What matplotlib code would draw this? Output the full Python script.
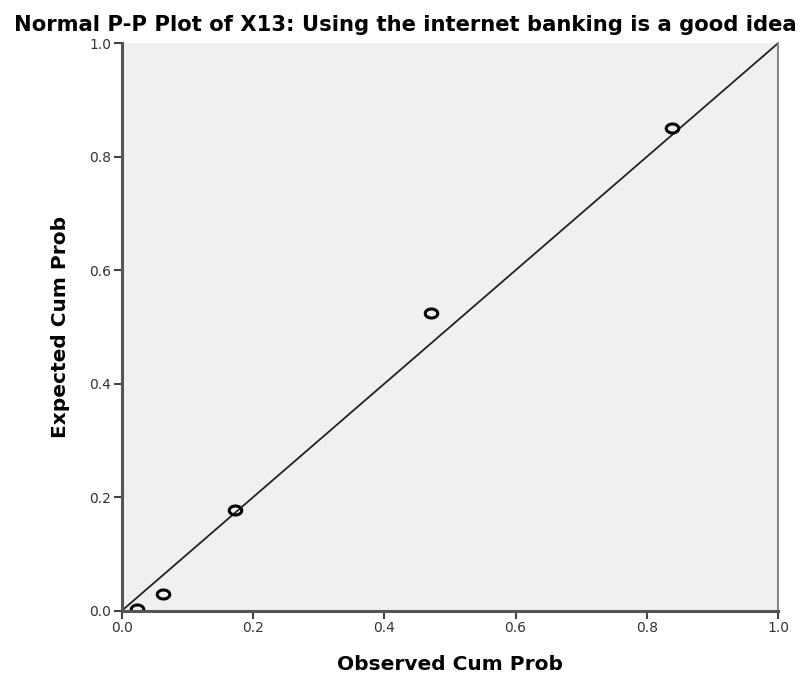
import matplotlib
matplotlib.use('Agg')
import matplotlib.pyplot as plt
from matplotlib.path import Path
import numpy as np

plt.rcParams['font.family'] = ['DejaVu Sans']

# observed vs expected cumulative probabilities
observed = [0.023, 0.063, 0.172, 0.471, 0.839]
expected = [0.003, 0.029, 0.177, 0.524, 0.851]
ticks = [0.0, 0.2, 0.4, 0.6, 0.8, 1.0]

# slightly flattened open circle marker
t = np.linspace(0, 2 * np.pi, 60)
ring = Path(np.column_stack([np.cos(t), 0.72 * np.sin(t)]), closed=True)

fig = plt.figure(figsize=(8.07, 6.73), dpi=100)
ax = fig.add_axes([0.151, 0.0926, 0.813, 0.843])
ax.set_facecolor('#f0f0f0')

ax.plot([0, 1], [0, 1], color='#222222', lw=1.3)
ax.plot(observed, expected, ls='none', marker=ring, mfc='none', mec='black', ms=9, mew=2.2)

ax.set_xlim(0, 1)
ax.set_ylim(0, 1)
ax.set_xticks(ticks)
ax.set_yticks(ticks)
ax.set_xticklabels(['%.1f' % v for v in ticks])
ax.set_yticklabels(['%.1f' % v for v in ticks])
ax.tick_params(labelsize=10, length=6, width=1.5, pad=1.5, color='#444444', labelcolor='#333333')

for s in ['left', 'bottom']:
    ax.spines[s].set_color('#555555')
    ax.spines[s].set_linewidth(2.2)
ax.spines['right'].set_color('#888888')
ax.spines['right'].set_linewidth(1.5)
ax.spines['top'].set_visible(False)

fig.text(450 / 807, 1 - 670 / 673, 'Observed Cum Prob', ha='center', va='baseline',
         fontsize=14.5, fontweight='bold')
fig.text(61 / 807, 1 - 327 / 673, 'Expected Cum Prob', ha='center', va='center',
         rotation=90, fontsize=14.5, fontweight='bold')
fig.text(405.5 / 807, 1 - 31 / 673, 'Normal P-P Plot of X13: Using the internet banking is a good idea',
         ha='center', va='baseline', fontsize=15.2, fontweight='bold')

fig.savefig('out.png', dpi=100)
